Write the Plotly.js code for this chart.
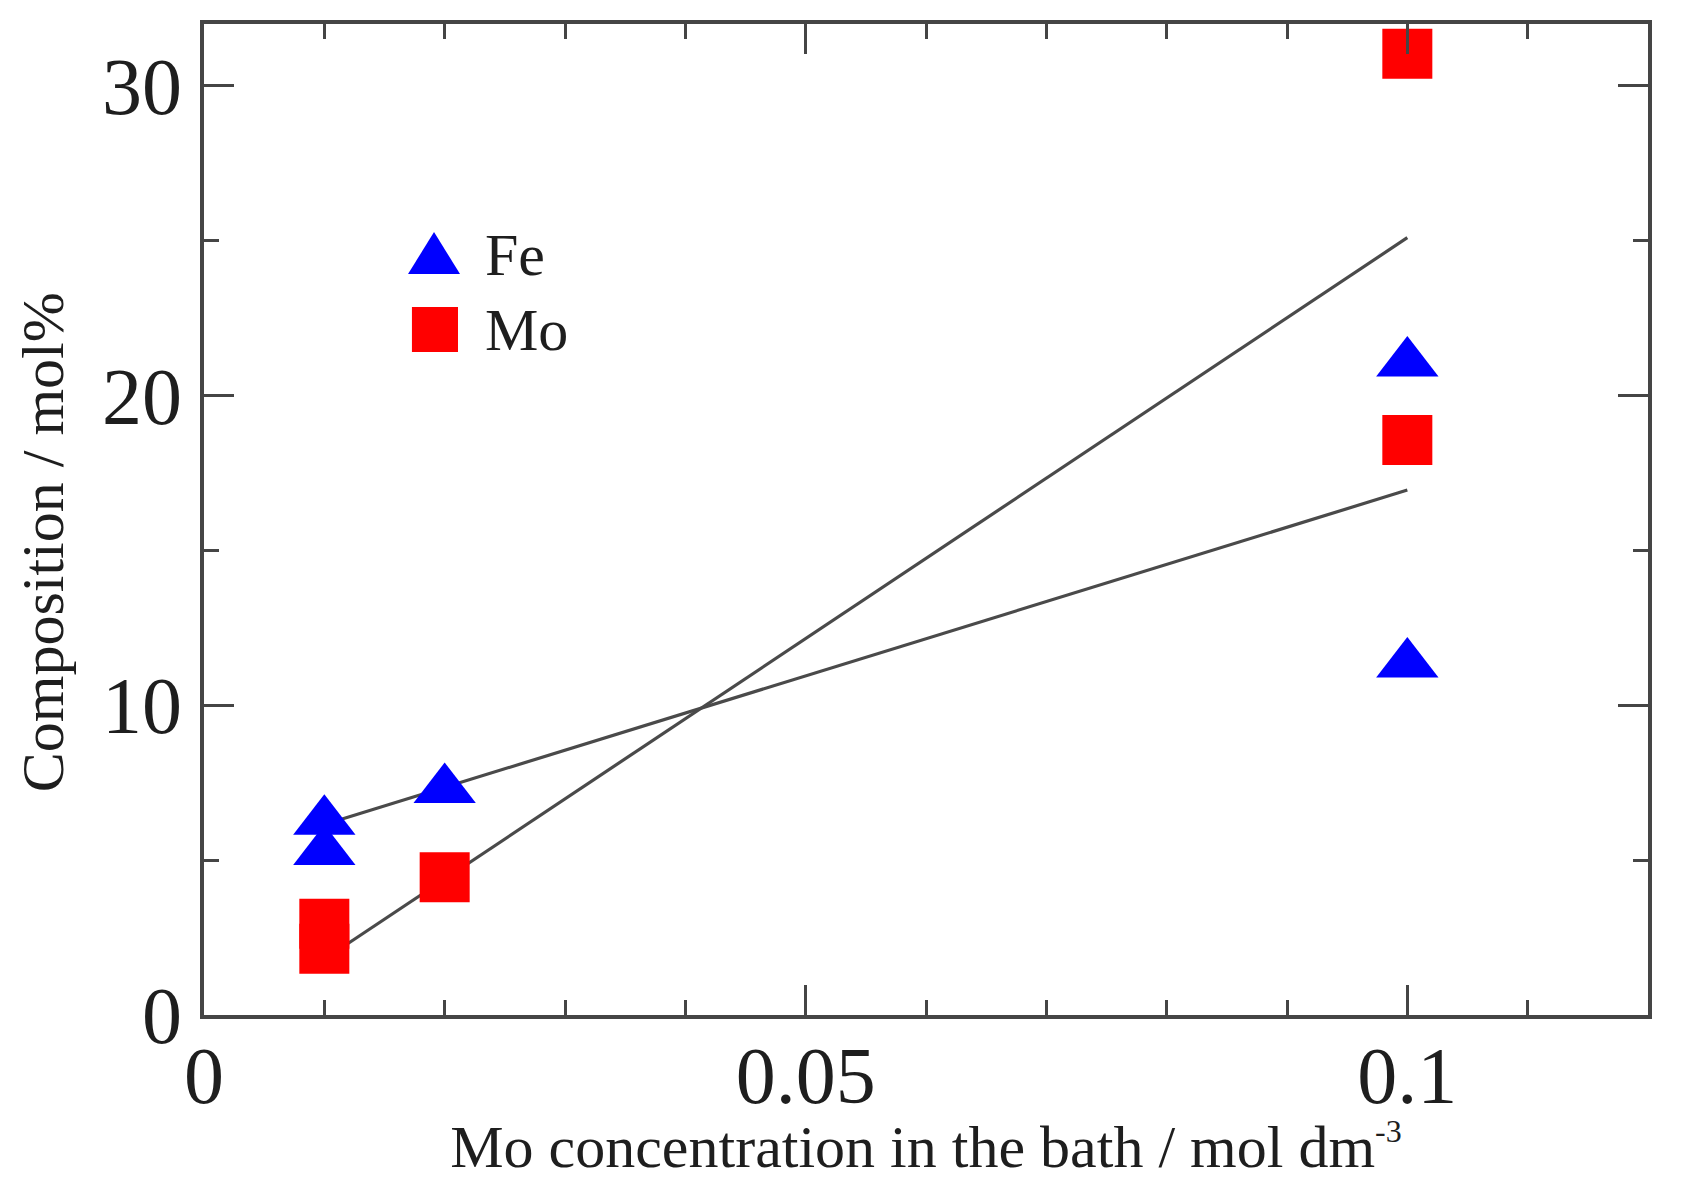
<!DOCTYPE html>
<html>
<head>
<meta charset="utf-8">
<script src="https://cdn.plot.ly/plotly-3.0.1.min.js"></script>
<style>
  html, body { margin: 0; padding: 0; background: #fff; }
  #chart { width: 1688px; height: 1180px; }
</style>
</head>
<body>
<div id="chart"></div>
<script>
// values
const feX = [0.01, 0.01, 0.02, 0.1, 0.1];
const feY = [6.26, 5.28, 7.28, 21.05, 11.33];
const moX = [0.01, 0.01, 0.02, 0.1, 0.1];
const moY = [2.95, 2.14, 4.45, 31.04, 18.57];
const fitX = [0.01, 0.1];
const feFit = [6.15, 16.95];
const moFit = [1.8, 25.1];

const xTicks = [0, 0.05, 0.1];
const xTickText = ['0', '0.05', '0.1'];
const yTicks = [0, 10, 20, 30];

const axisColor = '#454545';
const textColor = '#1e1e1e';
const serif = '"Liberation Serif", "Times New Roman", serif';

const feLine = {
  x: fitX, y: feFit, type: 'scatter', mode: 'lines',
  line: { color: '#4a4a4a', width: 3.2 },
  hoverinfo: 'skip', showlegend: false
};

const moLine = {
  x: fitX, y: moFit, type: 'scatter', mode: 'lines',
  line: { color: '#4a4a4a', width: 3.2 },
  hoverinfo: 'skip', showlegend: false
};

const fe = {
  x: feX, y: feY, type: 'scatter', mode: 'markers', name: 'Fe',
  marker: { symbol: 'triangle-up', size: 54, color: '#0000ff' },
  showlegend: false
};

const mo = {
  x: moX, y: moY, type: 'scatter', mode: 'markers', name: 'Mo',
  marker: { symbol: 'square', size: 50, color: '#ff0000' },
  showlegend: false
};

const layout = {
  width: 1688,
  height: 1180,
  margin: { l: 204, r: 40, t: 24, b: 165 },
  paper_bgcolor: '#ffffff',
  plot_bgcolor: '#ffffff',
  font: { family: serif, color: textColor },
  xaxis: {
    range: [0, 0.12],
    tickvals: xTicks,
    ticktext: xTickText,
    ticks: 'inside',
    ticklen: 30,
    tickwidth: 3,
    tickcolor: axisColor,
    minor: { dtick: 0.01, ticks: 'inside', ticklen: 15, tickwidth: 3, tickcolor: axisColor },
    showline: true,
    linecolor: axisColor,
    linewidth: 4,
    mirror: 'ticks',
    showgrid: false,
    zeroline: false,
    tickfont: { family: serif, size: 80, color: textColor },
    ticklabelstandoff: -12,
    title: {
      text: 'Mo concentration in the bath / mol dm<sup><span style="font-size:32px">-3</span></sup>',
      font: { family: serif, size: 60, color: textColor },
      standoff: 16
    }
  },
  yaxis: {
    range: [0, 32],
    tickvals: yTicks,
    ticks: 'inside',
    ticklen: 30,
    tickwidth: 3,
    tickcolor: axisColor,
    minor: { dtick: 5, ticks: 'inside', ticklen: 15, tickwidth: 3, tickcolor: axisColor },
    showline: true,
    linecolor: axisColor,
    linewidth: 4,
    mirror: 'ticks',
    showgrid: false,
    zeroline: false,
    tickfont: { family: serif, size: 80, color: textColor },
    ticklabelstandoff: 2
  },
  shapes: [
    // legend symbols
    { type: 'path', xref: 'paper', yref: 'paper',
      path: 'M 0.1413 0.7477 L 0.1773 0.7477 L 0.1593 0.7901 Z',
      fillcolor: '#0000ff', line: { width: 0 } },
    { type: 'rect', xref: 'paper', yref: 'paper',
      x0: 0.1440, x1: 0.1759, y0: 0.6690, y1: 0.7144,
      fillcolor: '#ff0000', line: { width: 0 } }
  ],
  annotations: [
    { text: 'Fe', xref: 'paper', yref: 'paper', x: 0.1932, y: 0.7669,
      xanchor: 'left', yanchor: 'middle', showarrow: false,
      font: { family: serif, size: 60, color: textColor } },
    { text: 'Mo', xref: 'paper', yref: 'paper', x: 0.1932, y: 0.6912,
      xanchor: 'left', yanchor: 'middle', showarrow: false,
      font: { family: serif, size: 60, color: textColor } },
    { text: 'Composition / mol%', xref: 'paper', yref: 'paper', x: -0.1115, y: 0.477,
      xanchor: 'center', yanchor: 'middle', textangle: -90, showarrow: false,
      font: { family: serif, size: 60, color: textColor } }
  ]
};

const config = { displayModeBar: false, staticPlot: true };

Plotly.newPlot('chart', [feLine, moLine, fe, mo], layout, config);
</script>
</body>
</html>
